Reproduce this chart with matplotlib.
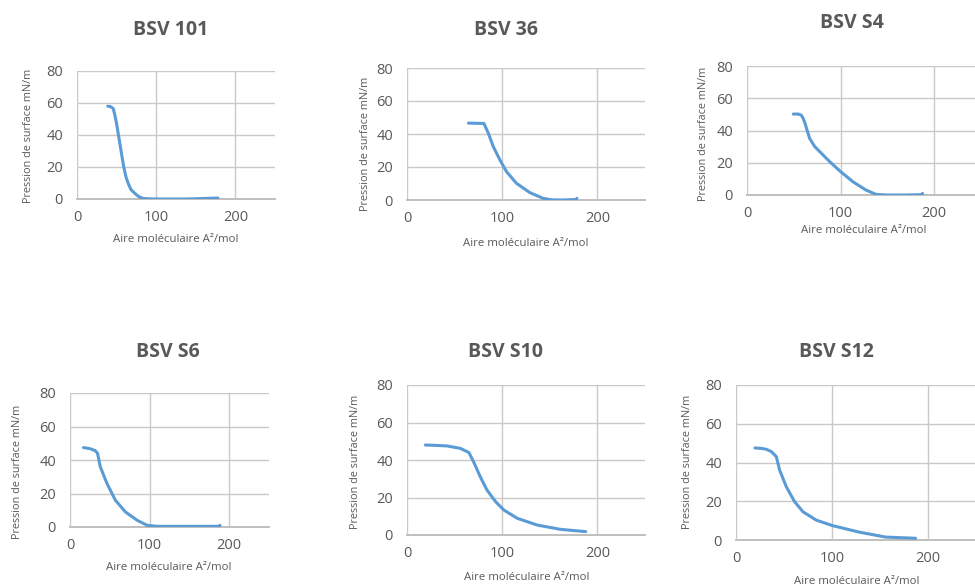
import matplotlib
matplotlib.use("Agg")
import matplotlib.pyplot as plt

W, H = 975, 587

titles = ["BSV 101", "BSV 36", "BSV S4", "BSV S6", "BSV S10", "BSV S12"]
xlabel_text = "Aire moléculaire A²/mol"
ylabel_text = "Pression de surface mN/m"
xticks = [0, 100, 200]
yticks = [0, 20, 40, 60, 80]

bsv101_x = [38.8, 42, 45.8, 48, 50, 52, 55, 59, 62, 64.6, 68, 73, 78, 83, 90, 100, 140, 178]
bsv101_y = [58, 57.8, 56.5, 52, 47, 41, 32, 20, 13.5, 9.8, 6, 3.5, 1.5, 0.4, 0.1, 0, 0, 0.6]

bsv36_x = [64.5, 72, 80.8, 85.4, 90.6, 97.6, 104.5, 115, 129, 143, 151.6, 163.8, 177.7, 178.5]
bsv36_y = [46.6, 46.5, 46.4, 40.5, 32.4, 24.3, 17.2, 10.1, 4.5, 1.0, 0.1, 0, 0.3, 1.0]

bsvS4_x = [49.5, 54.8, 58, 60, 62, 63.6, 67, 72.4, 81.3, 88.3, 100, 113, 127, 137.8, 148, 170, 187, 187.5]
bsvS4_y = [50.2, 50.2, 49.5, 47.5, 44.5, 41.3, 35, 30, 24.8, 20.7, 14.5, 8.3, 3.1, 0.4, 0, 0, 0.2, 1.0]

bsvS6_x = [16.9, 25, 31.6, 34.6, 38, 46.4, 57, 69.6, 84.4, 97, 109.7, 150, 187.8, 188.3]
bsvS6_y = [47.4, 46.8, 45.6, 44, 36, 26, 16, 9, 4, 1, 0.4, 0.4, 0.4, 1.0]

bsvS10_x = [19.3, 30, 42, 56, 65, 70, 77, 84, 93, 101.8, 115.8, 136.8, 161.4, 187.7]
bsvS10_y = [48, 47.8, 47.5, 46.2, 44, 39, 31, 24, 17.8, 13.3, 8.9, 5.3, 3, 1.8]

bsvS12_x = [19.7, 26, 31.7, 36.9, 42, 45.5, 52.4, 61, 69.7, 83.4, 100.7, 128, 156, 187]
bsvS12_y = [47.5, 47.3, 46.8, 45.6, 43, 36, 27.5, 19.8, 14.6, 10.3, 7.4, 4.1, 1.5, 0.9]

series_x = [bsv101_x, bsv36_x, bsvS4_x, bsvS6_x, bsvS10_x, bsvS12_x]
series_y = [bsv101_y, bsv36_y, bsvS4_y, bsvS6_y, bsvS10_y, bsvS12_y]

# layout in pixels: (left, right, top, bottom)
boxes = [(77, 275, 71, 199), (407, 645, 68, 200), (747, 981, 66, 195),
         (70, 269, 393, 527), (407, 645, 385, 535), (736, 976, 385, 540)]
title_pos = [(171, 30), (506, 30), (852, 23), (168, 352), (505, 352), (836, 352)]
xlab_pos = [(176, 240), (526, 243), (864, 230), (169, 568), (527, 578), (857, 582)]
ylab_pos = [(29, 136), (365, 144), (703, 134), (18, 472), (355, 462), (687, 462)]

FONT = "Open Sans"
TXT = "#595959"
GRID = "#c9c9c9"
LINE = "#5b9bd5"

fig = plt.figure(figsize=(W / 100, H / 100), dpi=100)
fig.patch.set_facecolor("white")

for i in range(6):
    l, r, t, b = boxes[i]
    ax = fig.add_axes([l / W, (H - b) / H, (r - l) / W, (b - t) / H])
    ax.plot(series_x[i], series_y[i], color=LINE, lw=2.2, solid_capstyle="round",
            solid_joinstyle="round", zorder=3)
    ax.set_xlim(0, 250)
    ax.set_ylim(0, 80)
    ax.set_xticks(xticks)
    ax.set_yticks(yticks)
    ax.grid(True, color=GRID, lw=1.0, zorder=0)
    ax.set_axisbelow(True)
    for s in ["top", "right", "left"]:
        ax.spines[s].set_visible(False)
    ax.spines["bottom"].set_color("#bfbfbf")
    ax.spines["bottom"].set_linewidth(1.4)
    ax.tick_params(length=0, labelsize=10.5, labelcolor=TXT)
    ax.tick_params(axis="y", pad=10)
    ax.tick_params(axis="x", pad=8)
    for lab in ax.get_xticklabels() + ax.get_yticklabels():
        lab.set_fontfamily(FONT)

    tx, ty = title_pos[i]
    fig.text(tx / W, 1 - ty / H, titles[i], ha="center", va="center",
             fontsize=14, fontweight="bold", color=TXT, family=FONT)
    xx, xy = xlab_pos[i]
    fig.text(xx / W, 1 - xy / H, xlabel_text, ha="center", va="center",
             fontsize=8.2, color=TXT, family=FONT)
    yx, yy = ylab_pos[i]
    fig.text(yx / W, 1 - yy / H, ylabel_text, ha="center", va="center",
             fontsize=7.8, color=TXT, family=FONT, rotation=90)

fig.savefig("out.png", dpi=100, facecolor="white")
